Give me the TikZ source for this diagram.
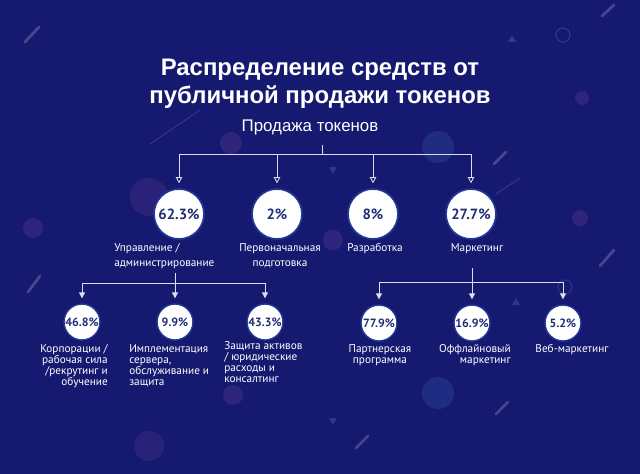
\documentclass[tikz,border=0pt]{standalone}
\usepackage{fontspec}
\setmainfont{PT Sans}
\newfontfamily\titlefont{Liberation Sans}
\usepackage{xcolor}
\usetikzlibrary{arrows.meta,positioning}
\definecolor{navy}{RGB}{21,25,112}
\definecolor{numblue}{RGB}{32,46,118}
\definecolor{ringblue}{RGB}{34,56,150}
\definecolor{linegray}{RGB}{218,222,240}
\definecolor{glow}{RGB}{50,80,165}
\definecolor{plum}{RGB}{80,52,140}

\begin{document}
\begin{tikzpicture}[
  x=0.025cm, y=-0.025cm,
  big/.style={circle, fill=white, draw=ringblue, line width=1.2pt, minimum size=1.25cm, inner sep=0pt,
    text=numblue, font=\fontsize{10.5}{12}\selectfont\bfseries},
  small/.style={circle, fill=white, draw=ringblue, line width=1pt, minimum size=0.9cm, inner sep=0pt,
    text=numblue, font=\fontsize{8.5}{10}\selectfont\bfseries},
  lbl/.style={text=white, inner sep=0pt, font=\fontsize{8}{10.6}\selectfont},
  lbls/.style={text=white, inner sep=0pt, font=\fontsize{8}{7.8}\selectfont},
  ln/.style={draw=linegray, line width=0.6pt},
  ar/.style={ln, -{Triangle[open, length=1.5mm, width=1.6mm]}, shorten >=3.5pt},
  arf/.style={ln, -{Triangle[length=1.5mm, width=1.5mm]}, shorten >=3.5pt},
  streak/.style={draw=white, opacity=0.2, line width=2pt, line cap=round},
  blob/.style={fill=plum, opacity=0.45},
]
\useasboundingbox (0,0) rectangle (640,474);
\fill[navy] (0,0) rectangle (640,474);

% background decoration
\draw[streak] (25,42) -- (39,27);
\draw[streak] (602,16) -- (614,5);
\draw[streak] (494,164) -- (506,152);
\draw[streak] (600,266) -- (614,250);
\draw[streak] (28,292) -- (40,276);
\draw[streak] (356,448) -- (368,436);
\draw[streak] (496,414) -- (508,402);
\draw[streak, line width=0.6pt, opacity=0.15] (150,144) -- (200,110);
\draw[streak, line width=0.6pt, opacity=0.15] (496,194) -- (520,178);
\draw[draw=glow, opacity=0.5, line width=1pt] (563,35) circle (7);
\fill[blob] (582,98) circle (7);
\fill[glow, opacity=0.35] (438,147) circle (16);
\fill[blob] (231,143) circle (11);
\fill[blob, opacity=0.35] (149,197) circle (19);
\fill[blob] (33,228) circle (10);
\fill[blob] (333,240) circle (10);
\fill[blob] (580,218) circle (8);
\fill[blob] (233,395) circle (10);
\fill[blob, opacity=0.35] (149,446) circle (15);
\fill[glow, opacity=0.35] (438,393) circle (16);
\draw[draw=glow, opacity=0.45, line width=1pt] (565,287) circle (7);
\fill[glow, opacity=0.6] (508,42) -- (516,42) -- (512,35) -- cycle;
\fill[glow, opacity=0.6] (329,167) -- (337,167) -- (333,174) -- cycle;
\fill[glow, opacity=0.6] (329,418) -- (337,418) -- (333,425) -- cycle;
\fill[glow, opacity=0.6] (512,305) -- (520,305) -- (516,298) -- cycle;

% title
\node[text=white, align=center, font=\titlefont\fontsize{17}{20}\selectfont\bfseries] (title) at (320,84)
  {Распределение средств от\\публичной продажи токенов};
\node[text=white, font=\titlefont\fontsize{12}{14}\selectfont] (sale) at (310,127) {Продажа токенов};

% first level
\node[big] (adm)  at (179,214) {62.3\%};
\node[big] (prep) at (277,214) {2\%};
\node[big] (dev)  at (373,214) {8\%};
\node[big] (mkt)  at (471,214) {27.7\%};

\node[lbl, anchor=north west, align=left] (admL) at (114,243) {Управление /\\администрирование};
\node[lbl, anchor=north, align=center] (prepL) at (280,243) {Первоначальная\\подготовка};
\node[lbl, anchor=north] (devL) at (375,243) {Разработка};
\node[lbl, anchor=north] (mktL) at (477,243) {Маркетинг};

% second level
\node[small] (corp) at (82,322)  {46.8\%};
\node[small] (impl) at (175,322) {9.9\%};
\node[small] (prot) at (265,322) {43.3\%};
\node[small] (aff)  at (379,323) {77.9\%};
\node[small] (off)  at (472,323) {16.9\%};
\node[small] (web)  at (563,323) {5.2\%};

\node[lbls, anchor=north east, align=right] (corpL) at (108,344) {Корпорации /\\рабочая сила\\/рекрутинг и\\обучение};
\node[lbls, anchor=north west, align=left] (implL) at (129,344) {Имплементация\\сервера,\\обслуживание и\\защита};
\node[lbls, anchor=north west, align=left] (protL) at (224,341) {Защита активов\\/ юридические\\расходы и\\консалтинг};
\node[lbls, anchor=north, align=center] (affL) at (380,344) {Партнерская\\программа};
\node[lbls, anchor=north east, align=right] (offL) at (511,344) {Оффлайновый\\маркетинг};
\node[lbls, anchor=north] (webL) at (572,344) {Веб-маркетинг};

% connectors
\coordinate (bar1) at (322,154);
\coordinate (bar2) at (175,283);
\coordinate (bar3) at (472,282);

\draw[ln, shorten <=4pt] (sale.south -| bar1) -- (bar1);
\draw[ar] (bar1) -| (adm);
\draw[ar] (bar1) -| (prep);
\draw[ar] (bar1) -| (dev);
\draw[ar] (bar1) -| (mkt);

\draw[ln, shorten <=3pt] (admL.south -| bar2) -- (bar2);
\draw[arf] (bar2) -| (corp);
\draw[arf] (bar2) -- (impl);
\draw[arf] (bar2) -| (prot);

\draw[ln, shorten <=10pt] (mktL.south -| bar3) -- (bar3);
\draw[arf] (bar3) -| (aff);
\draw[arf] (bar3) -- (off);
\draw[arf] (bar3) -| (web);
\end{tikzpicture}
\end{document}
